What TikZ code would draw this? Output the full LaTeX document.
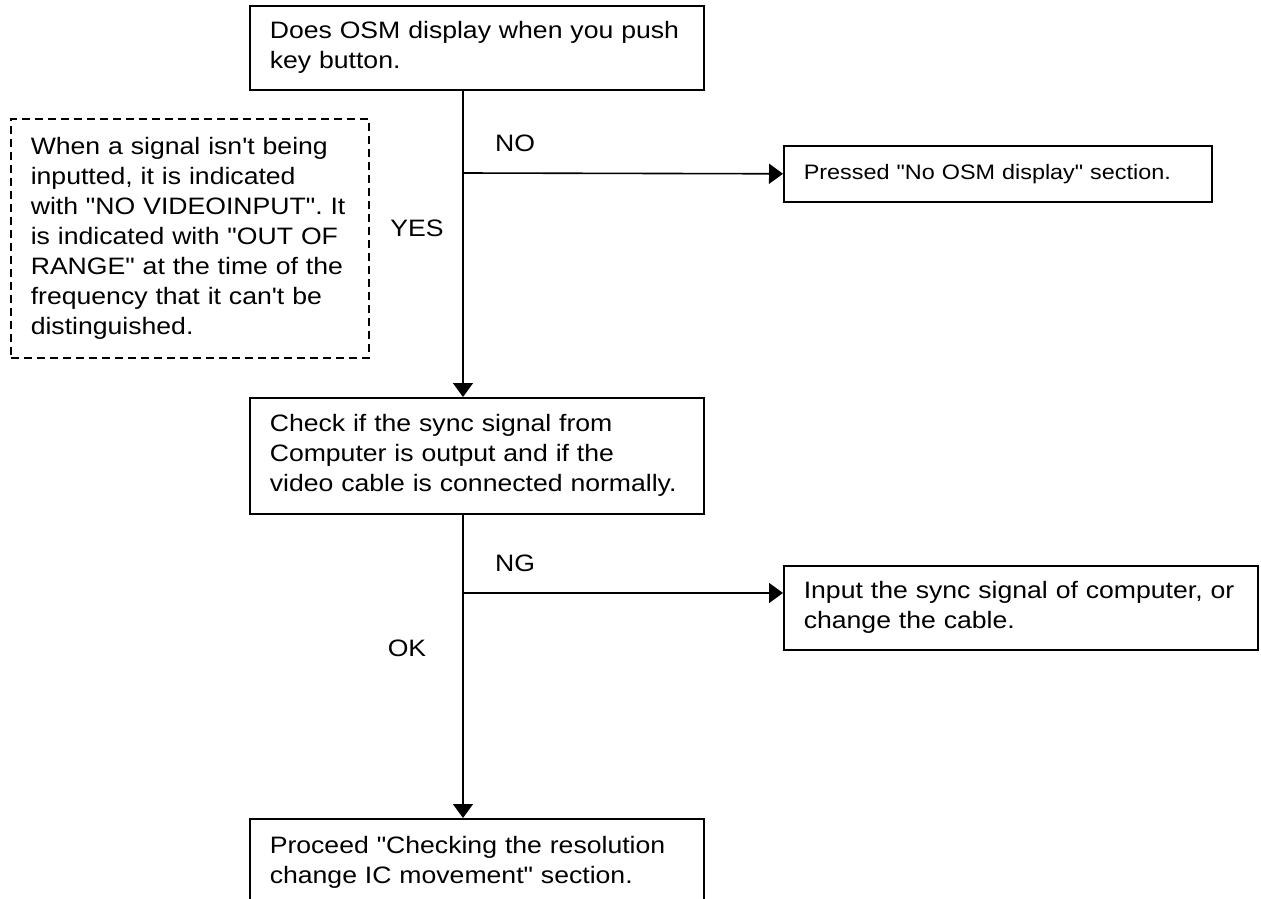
\documentclass[tikz,border=0pt]{standalone}
\usepackage{fontspec}
\setmainfont[FakeStretch=1.12,Ligatures=TeXOff]{Liberation Sans}
\usetikzlibrary{arrows.meta}
\frenchspacing

\begin{document}
\begin{tikzpicture}[x=1pt,y=-1pt,>={Triangle[width=20pt,length=14pt]},line width=1.6pt,
    box/.style={draw,anchor=north west,align=left,inner xsep=20pt,inner ysep=0pt,font=\fontsize{23.75}{30}\selectfont},
    smallbox/.style={box,font=\fontsize{20.9}{26}\selectfont},
    note/.style={box,dash pattern=on 8pt off 5pt},
    lbl/.style={font=\fontsize{23.75}{30}\selectfont}]
    \useasboundingbox (0,0) rectangle (1261,899);
    \clip (0,0) rectangle (1261,899);
    \def\xl{249} \def\xr{783}
    \node[box,text width=414pt,minimum height=84pt] (q1) at (\xl,5) {Does OSM display when you push\\key button.};
    \node[note,text width=318pt,minimum height=239pt] (hint) at (10,118) {When a signal isn't being\\inputted, it is indicated\\with "NO VIDEOINPUT". It\\is indicated with "OUT OF\\RANGE" at the time of the\\frequency that it can't be\\distinguished.};
    \node[smallbox,text width=388pt,minimum height=56pt] (nosm) at (\xr,145) {Pressed "No OSM display" section.};
    \node[box,text width=414pt,minimum height=116pt] (q2) at (\xl,397) {Check if the sync signal from\\Computer is output and if the\\video cable is connected normally.};
    \node[box,text width=434pt,minimum height=84pt] (q3) at (\xr,565) {Input the sync signal of computer, or\\change the cable.};
    \node[box,text width=414pt,minimum height=87pt] (q4) at (\xl,818) {Proceed "Checking the resolution\\change IC movement" section.};
    % branch points
    \coordinate (j1) at (463,173);
    \coordinate (j2) at (463,593);
    \draw[->] (q1.south -| j1) -- (q2.north -| j1);
    \draw[->] (j1) -- (nosm.west);
    \draw[->] (q2.south -| j2) -- (q4.north -| j2);
    \draw[->] (j2) -- (j2 -| q3.west);
    \node[lbl] (no) at (515,143) {NO};
    \node[lbl] (yes) at (417,228) {YES};
    \node[lbl] (ng) at (515,563) {NG};
    \node[lbl] (ok) at (407,648) {OK};
\end{tikzpicture}
\end{document}
